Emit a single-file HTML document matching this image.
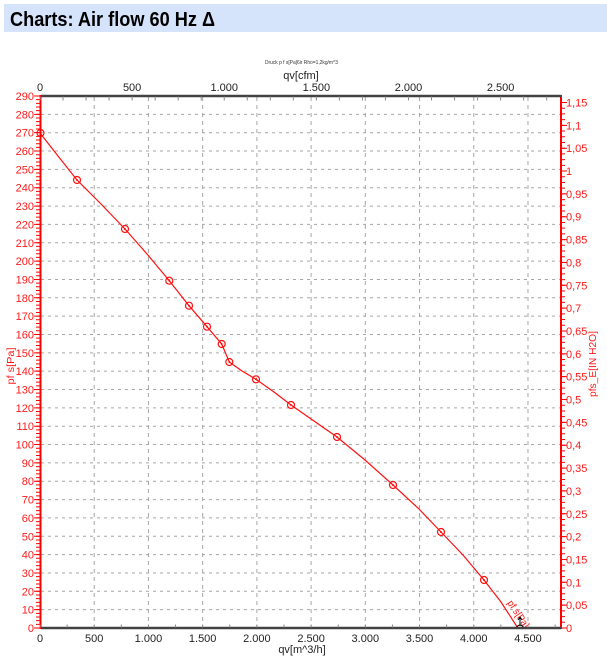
<!DOCTYPE html>
<html>
<head>
<meta charset="utf-8">
<style>
  html,body{margin:0;padding:0;background:#fff;}
  svg{display:block;}
  text{font-family:"Liberation Sans", Arial, sans-serif;}
</style>
</head>
<body>
<svg width="607" height="657" viewBox="0 0 607 657" xmlns="http://www.w3.org/2000/svg">
  <!-- Header band -->
  <rect x="4" y="4" width="603" height="28" fill="#d5e3fb"/>
  <text x="10" y="26" font-size="20" font-weight="bold" fill="#000" textLength="205" lengthAdjust="spacingAndGlyphs">Charts: Air flow 60 Hz Δ</text>

  <!-- chart titles -->
  <text x="301.5" y="64" font-size="5" fill="#333" text-anchor="middle" textLength="73" lengthAdjust="spacingAndGlyphs">Druck p f s[Pa]6ir Rho=1,2kg/m^3</text>
  <text x="301" y="79" font-size="11" fill="#222" text-anchor="middle">qv[cfm]</text>

  <!-- Horizontal grid -->
  <g stroke="#a6a6a6" stroke-width="1" stroke-dasharray="3 4">
    <line x1="41" y1="609.66" x2="560" y2="609.66"/>
    <line x1="41" y1="591.31" x2="560" y2="591.31"/>
    <line x1="41" y1="572.97" x2="560" y2="572.97"/>
    <line x1="41" y1="554.62" x2="560" y2="554.62"/>
    <line x1="41" y1="536.28" x2="560" y2="536.28"/>
    <line x1="41" y1="517.93" x2="560" y2="517.93"/>
    <line x1="41" y1="499.59" x2="560" y2="499.59"/>
    <line x1="41" y1="481.24" x2="560" y2="481.24"/>
    <line x1="41" y1="462.9" x2="560" y2="462.9"/>
    <line x1="41" y1="444.55" x2="560" y2="444.55"/>
    <line x1="41" y1="426.21" x2="560" y2="426.21"/>
    <line x1="41" y1="407.86" x2="560" y2="407.86"/>
    <line x1="41" y1="389.52" x2="560" y2="389.52"/>
    <line x1="41" y1="371.17" x2="560" y2="371.17"/>
    <line x1="41" y1="352.83" x2="560" y2="352.83"/>
    <line x1="41" y1="334.48" x2="560" y2="334.48"/>
    <line x1="41" y1="316.14" x2="560" y2="316.14"/>
    <line x1="41" y1="297.79" x2="560" y2="297.79"/>
    <line x1="41" y1="279.45" x2="560" y2="279.45"/>
    <line x1="41" y1="261.1" x2="560" y2="261.1"/>
    <line x1="41" y1="242.76" x2="560" y2="242.76"/>
    <line x1="41" y1="224.41" x2="560" y2="224.41"/>
    <line x1="41" y1="206.07" x2="560" y2="206.07"/>
    <line x1="41" y1="187.72" x2="560" y2="187.72"/>
    <line x1="41" y1="169.38" x2="560" y2="169.38"/>
    <line x1="41" y1="151.03" x2="560" y2="151.03"/>
    <line x1="41" y1="132.69" x2="560" y2="132.69"/>
    <line x1="41" y1="114.34" x2="560" y2="114.34"/>
  </g>
  <!-- Vertical grid -->
  <g stroke="#a6a6a6" stroke-width="1" stroke-dasharray="4 4">
    <line x1="94.22" y1="97" x2="94.22" y2="627"/>
    <line x1="148.44" y1="97" x2="148.44" y2="627"/>
    <line x1="202.66" y1="97" x2="202.66" y2="627"/>
    <line x1="256.88" y1="97" x2="256.88" y2="627"/>
    <line x1="311.1" y1="97" x2="311.1" y2="627"/>
    <line x1="365.32" y1="97" x2="365.32" y2="627"/>
    <line x1="419.54" y1="97" x2="419.54" y2="627"/>
    <line x1="473.76" y1="97" x2="473.76" y2="627"/>
    <line x1="527.98" y1="97" x2="527.98" y2="627"/>
  </g>

  <!-- Curve -->
  <polyline fill="none" stroke="#ff1010" stroke-width="1.2"
    points="40,133 58,156 77,180 101,204 125,229 147,254 169.3,280.7 189,305.7 207,326.7 221.7,344 229.3,362 242,371 256,379.3 274,392 291,405 314,421 337,437 365,460 393,485 418,508 441,532 463,555 484,580 501,602 517.5,627.5"/>
  <g fill="none" stroke="#ff1010" stroke-width="1.2">
    <circle cx="40.5" cy="133" r="3.5"/>
    <circle cx="77" cy="180" r="3.5"/>
    <circle cx="125" cy="229" r="3.5"/>
    <circle cx="169.3" cy="280.7" r="3.5"/>
    <circle cx="189" cy="305.7" r="3.5"/>
    <circle cx="207" cy="326.7" r="3.5"/>
    <circle cx="221.7" cy="344" r="3.5"/>
    <circle cx="229.3" cy="362" r="3.5"/>
    <circle cx="256" cy="379.3" r="3.5"/>
    <circle cx="291" cy="405" r="3.5"/>
    <circle cx="337" cy="437" r="3.5"/>
    <circle cx="393" cy="485" r="3.5"/>
    <circle cx="441" cy="532" r="3.5"/>
    <circle cx="484" cy="580" r="3.5"/>
  </g>
  <g fill="#ff1010">
    <circle cx="40.5" cy="133" r="1"/>
    <circle cx="77" cy="180" r="1"/>
    <circle cx="125" cy="229" r="1"/>
    <circle cx="169.3" cy="280.7" r="1"/>
    <circle cx="189" cy="305.7" r="1"/>
    <circle cx="207" cy="326.7" r="1"/>
    <circle cx="221.7" cy="344" r="1"/>
    <circle cx="229.3" cy="362" r="1"/>
    <circle cx="256" cy="379.3" r="1"/>
    <circle cx="291" cy="405" r="1"/>
    <circle cx="337" cy="437" r="1"/>
    <circle cx="393" cy="485" r="1"/>
    <circle cx="441" cy="532" r="1"/>
    <circle cx="484" cy="580" r="1"/>
  </g>
  <!-- curve label -->
  <text x="0" y="0" font-size="10" fill="#ff1010" transform="translate(507,603) rotate(56)" textLength="31" lengthAdjust="spacingAndGlyphs">pf s[Pa]</text>
  <!-- small black marker -->
  <path d="M516,628 Q520,622 524,628 M520,626 L520,617 M518,620 L520,617 L522,620" fill="none" stroke="#000" stroke-width="1"/>

  <!-- Left axis (red) -->
  <line x1="40.5" y1="95" x2="40.5" y2="629" stroke="#ff0000" stroke-width="2"/>
  <line x1="38" y1="628.5" x2="38" y2="95" stroke="#ff0000" stroke-width="4" stroke-dasharray="1 2.669"/>
  <line x1="37" y1="628.5" x2="37" y2="95" stroke="#ff0000" stroke-width="6" stroke-dasharray="1 17.345"/>
  <g font-size="11" fill="#ff1a1a" text-anchor="end">
    <text x="34" y="632">0</text>
    <text x="34" y="613.66">10</text>
    <text x="34" y="595.31">20</text>
    <text x="34" y="576.97">30</text>
    <text x="34" y="558.62">40</text>
    <text x="34" y="540.28">50</text>
    <text x="34" y="521.93">60</text>
    <text x="34" y="503.59">70</text>
    <text x="34" y="485.24">80</text>
    <text x="34" y="466.9">90</text>
    <text x="34" y="448.55">100</text>
    <text x="34" y="430.21">110</text>
    <text x="34" y="411.86">120</text>
    <text x="34" y="393.52">130</text>
    <text x="34" y="375.17">140</text>
    <text x="34" y="356.83">150</text>
    <text x="34" y="338.48">160</text>
    <text x="34" y="320.14">170</text>
    <text x="34" y="301.79">180</text>
    <text x="34" y="283.45">190</text>
    <text x="34" y="265.1">200</text>
    <text x="34" y="246.76">210</text>
    <text x="34" y="228.41">220</text>
    <text x="34" y="210.07">230</text>
    <text x="34" y="191.72">240</text>
    <text x="34" y="173.38">250</text>
    <text x="34" y="155.03">260</text>
    <text x="34" y="136.69">270</text>
    <text x="34" y="118.34">280</text>
    <text x="34" y="100">290</text>
  </g>
  <text x="0" y="0" font-size="10.5" fill="#ff1a1a" text-anchor="middle" transform="translate(14,366) rotate(-90)" textLength="37" lengthAdjust="spacingAndGlyphs">pf s[Pa]</text>

  <!-- Right axis (red) -->
  <line x1="561" y1="95" x2="561" y2="629" stroke="#ff0000" stroke-width="2"/>
  <line x1="563.5" y1="628.5" x2="563.5" y2="100" stroke="#ff0000" stroke-width="3" stroke-dasharray="1 4.712"/>
  <line x1="564.5" y1="628.5" x2="564.5" y2="100" stroke="#ff0000" stroke-width="5" stroke-dasharray="1 21.8475"/>
  <g font-size="11" fill="#ff1a1a">
    <text x="566" y="632">0</text>
    <text x="566" y="609.15">0,05</text>
    <text x="566" y="586.3">0,1</text>
    <text x="566" y="563.46">0,15</text>
    <text x="566" y="540.61">0,2</text>
    <text x="566" y="517.76">0,25</text>
    <text x="566" y="494.91">0,3</text>
    <text x="566" y="472.07">0,35</text>
    <text x="566" y="449.22">0,4</text>
    <text x="566" y="426.37">0,45</text>
    <text x="566" y="403.52">0,5</text>
    <text x="566" y="380.68">0,55</text>
    <text x="566" y="357.83">0,6</text>
    <text x="566" y="334.98">0,65</text>
    <text x="566" y="312.13">0,7</text>
    <text x="566" y="289.29">0,75</text>
    <text x="566" y="266.44">0,8</text>
    <text x="566" y="243.59">0,85</text>
    <text x="566" y="220.74">0,9</text>
    <text x="566" y="197.9">0,95</text>
    <text x="566" y="175.05">1</text>
    <text x="566" y="152.2">1,05</text>
    <text x="566" y="129.35">1,1</text>
    <text x="566" y="106.51">1,15</text>
  </g>
  <text x="0" y="0" font-size="10.5" fill="#ff1a1a" text-anchor="middle" transform="translate(596,364) rotate(-90)" textLength="66" lengthAdjust="spacingAndGlyphs">pfs_E[IN H2O]</text>

  <!-- Top axis (cfm) -->
  <line x1="41" y1="96" x2="561" y2="96" stroke="#424242" stroke-width="2.5"/>
  <line x1="39.5" y1="98.5" x2="561" y2="98.5" stroke="#8a8a8a" stroke-width="4" stroke-dasharray="1 22.03"/>
  <g font-size="11" fill="#222" text-anchor="middle">
    <text x="40" y="91">0</text>
    <text x="132.12" y="91">500</text>
    <text x="224.24" y="91">1.000</text>
    <text x="316.36" y="91">1.500</text>
    <text x="408.48" y="91">2.000</text>
    <text x="500.6" y="91">2.500</text>
  </g>

  <!-- Bottom axis (m3/h) -->
  <line x1="41" y1="628" x2="561" y2="628" stroke="#424242" stroke-width="2.5"/>
  <line x1="39.5" y1="626" x2="561" y2="626" stroke="#8a8a8a" stroke-width="3" stroke-dasharray="1 26.11"/>
  <g font-size="11" fill="#222" text-anchor="middle">
    <text x="40" y="642">0</text>
    <text x="94.22" y="642">500</text>
    <text x="148.44" y="642">1.000</text>
    <text x="202.66" y="642">1.500</text>
    <text x="256.88" y="642">2.000</text>
    <text x="311.1" y="642">2.500</text>
    <text x="365.32" y="642">3.000</text>
    <text x="419.54" y="642">3.500</text>
    <text x="473.76" y="642">4.000</text>
    <text x="527.98" y="642">4.500</text>
  </g>
  <text x="302" y="653" font-size="11" fill="#222" text-anchor="middle">qv[m^3/h]</text>
</svg>
</body>
</html>
